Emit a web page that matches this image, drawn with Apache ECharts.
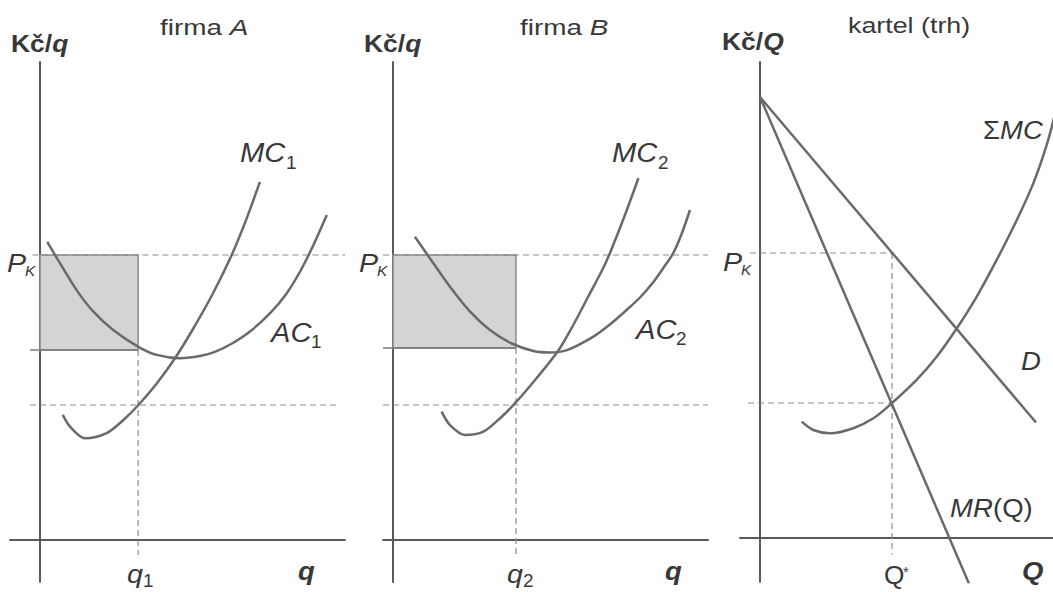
<!DOCTYPE html>
<html><head><meta charset="utf-8">
<script src="https://cdn.jsdelivr.net/npm/echarts@6/dist/echarts.min.js"></script>
<style>html,body{margin:0;padding:0;background:#fff}#c{width:1053px;height:592px}</style>
</head><body><div id="c"></div>
<script>
// ---- data (economic units) ----
const mc1 = [[0.76,4.17],[1.0,3.78],[1.5,3.39],[2.22,3.56],[2.78,4.0],[3.28,4.5],[3.89,5.22],[4.5,6.06],[5.11,7.05],[5.78,8.25],[6.39,9.5],[6.89,10.72],[7.33,11.94]];
const ac1 = [[0.24,9.94],[0.67,9.22],[1.22,8.33],[1.78,7.61],[2.44,7.0],[3.28,6.44],[3.89,6.17],[4.67,6.06],[5.33,6.13],[5.85,6.28],[6.4,6.55],[7.0,6.95],[7.67,7.56],[8.22,8.22],[8.67,8.95],[9.1,9.8],[9.56,10.83]];
const mc2 = [[1.62,4.28],[1.9,3.83],[2.4,3.5],[3.01,3.61],[3.57,4.06],[4.07,4.56],[4.79,5.4],[5.5,6.3],[6.0,7.15],[6.5,8.1],[7.0,9.05],[7.23,9.56],[7.7,10.75],[8.18,12.06]];
const ac2 = [[0.73,10.11],[1.23,9.39],[1.9,8.44],[2.57,7.61],[3.23,7.0],[3.96,6.55],[4.68,6.3],[5.2,6.25],[5.8,6.33],[6.68,6.78],[7.25,7.2],[7.79,7.67],[8.25,8.1],[8.68,8.6],[9.0,9.05],[9.34,9.56],[9.62,10.2],[9.9,11.0]];
const demand = [[0,14.7],[9.2,3.85]];
const mr = [[0,14.7],[7.0,-1.6]];
const smc = [[1.39,3.88],[1.78,3.6],[2.33,3.49],[3.11,3.66],[3.78,3.99],[4.39,4.49],[5.22,5.27],[5.89,6.04],[6.56,6.99],[7.22,8.04],[7.89,9.27],[8.56,10.6],[9.11,11.82],[9.56,13.11],[9.85,14.2]];
const pK = 9.5;
const q1 = 3.27, acQ1 = 6.33, mcQ1 = 4.5;
const q2 = 4.1, acQ2 = 6.4, mcQ2 = 4.5;
const qStar = 4.4, mcQStar = 4.5;

// ---- styles ----
const curveColor = '#6a6a6a';
const dashColor = '#8a8a8a';
const axisColor = '#5a5a5a';
const textColor = '#383838';
const FONT = 'Liberation Sans, Arial, sans-serif';

const grids = [
  {left:10, top:62, width:335, height:520},
  {left:383, top:62, width:325, height:520},
  {left:740, top:62, width:313, height:520}
];
const xRanges = [[-1,10.1667],[-0.3333,10.5],[-0.6667,9.7667]];
const yRanges = [[-1.4,15.9333],[-1.4,15.9333],[-1.4667,15.8667]];

function xa(i){return {type:'value',gridIndex:i,min:xRanges[i][0],max:xRanges[i][1],
  axisLine:{onZero:true,lineStyle:{color:axisColor,width:2}},axisTick:{show:false},axisLabel:{show:false},splitLine:{show:false}};}
function ya(i){return {type:'value',gridIndex:i,min:yRanges[i][0],max:yRanges[i][1],
  axisLine:{onZero:true,lineStyle:{color:axisColor,width:2}},axisTick:{show:false},axisLabel:{show:false},splitLine:{show:false}};}

function curve(i,data){return {type:'line',xAxisIndex:i,yAxisIndex:i,data:data,smooth:0.3,showSymbol:false,silent:true,z:5,
  lineStyle:{color:curveColor,width:2.5}};}
function straight(i,data){return {type:'line',xAxisIndex:i,yAxisIndex:i,data:data,showSymbol:false,silent:true,z:5,
  lineStyle:{color:curveColor,width:2.5}};}
function dashed(i,data){return {type:'line',xAxisIndex:i,yAxisIndex:i,data:data,showSymbol:false,silent:true,z:3,
  lineStyle:{color:dashColor,width:1.2,type:[6,4]}};}
function solid(i,data){return {type:'line',xAxisIndex:i,yAxisIndex:i,data:data,showSymbol:false,silent:true,z:4,
  lineStyle:{color:'#7a7a7a',width:1.5}};}
function shade(i,q,lo){return {type:'line',xAxisIndex:i,yAxisIndex:i,data:[],silent:true,z:2,
  markArea:{silent:true,itemStyle:{color:'#d4d4d4',borderColor:'#8a8a8a',borderWidth:1.5},
    data:[[{coord:[0,lo]},{coord:[q,pK]}]]}};}

const series = [
  // panel A
  shade(0,q1,acQ1),
  dashed(0,[[-0.25,pK],[10.17,pK]]),
  dashed(0,[[-0.33,mcQ1],[10.0,mcQ1]]),
  dashed(0,[[q1,acQ1],[q1,-0.5]]),
  solid(0,[[-0.33,acQ1],[q1,acQ1]]),
  curve(0,mc1), curve(0,ac1),
  // panel B
  shade(1,q2,acQ2),
  dashed(1,[[-0.33,pK],[10.5,pK]]),
  dashed(1,[[-0.33,mcQ2],[10.5,mcQ2]]),
  dashed(1,[[q2,acQ2],[q2,-0.5]]),
  solid(1,[[-0.33,acQ2],[q2,acQ2]]),
  curve(1,mc2), curve(1,ac2),
  // panel C
  dashed(2,[[-0.33,pK],[qStar,pK]]),
  dashed(2,[[-0.4,mcQStar],[qStar,mcQStar]]),
  dashed(2,[[qStar,pK],[qStar,-0.55]]),
  straight(2,demand),
  straight(2,mr),
  curve(2,smc)
];

function T(x,y,text,size,style,weight,sx){
  return {type:'text',x:x,y:y,scaleX:sx||1.1,z:100,style:{text:text,fill:textColor,
    font:(style||'normal')+' '+(weight||'normal')+' '+size+'px '+FONT,verticalAlign:'middle',align:'left'}};
}
function R(x,y,text,size,rich,sx){
  return {type:'text',x:x,y:y,scaleX:sx||1.1,z:100,style:{text:text,fill:textColor,
    fontFamily:FONT,fontSize:size,verticalAlign:'middle',align:'left',rich:rich}};
}
const axisRich = {
  a:{fontFamily:FONT,fontSize:23,fontWeight:'bold',fill:textColor,color:textColor},
  b:{fontFamily:FONT,fontSize:23,fontWeight:'bold',fontStyle:'italic',fill:textColor,color:textColor}
};
const titleRich = {
  n:{fontFamily:FONT,fontSize:22,fill:textColor,color:textColor},
  i:{fontFamily:FONT,fontSize:22,fontStyle:'italic',fill:textColor,color:textColor}
};
const graphics = [
  // panel A
  R(11,44,'{a|Kč/}{b|q}',23,axisRich,1.15),
  R(160,27,'{n|firma }{i|A}',22,titleRich,1.27),
  T(240,153,'MC',27,'italic','normal',1.08), T(286,163,'1',18,'normal','normal',1.05),
  T(271,333,'AC',27,'italic','normal',1.08), T(311,342,'1',18,'normal','normal',1.05),
  T(7,263,'P',26,'italic','normal',1.1), T(25,271,'K',14,'italic','normal',1.1),
  T(127,574,'q',26,'italic','normal',1.1), T(143,581,'1',18,'normal','normal',1.05),
  T(298,571,'q',25,'italic','bold',1.1),
  // panel B
  R(364,44,'{a|Kč/}{b|q}',23,axisRich,1.15),
  R(520,27,'{n|firma }{i|B}',22,titleRich,1.27),
  T(612,153,'MC',27,'italic','normal',1.08), T(658,163,'2',18,'normal','normal',1.05),
  T(636,330,'AC',27,'italic','normal',1.08), T(676,339,'2',18,'normal','normal',1.05),
  T(359,263,'P',26,'italic','normal',1.1), T(377,271,'K',14,'italic','normal',1.1),
  T(507,574,'q',26,'italic','normal',1.1), T(523,581,'2',18,'normal','normal',1.05),
  T(665,571,'q',25,'italic','bold',1.1),
  // panel C
  R(722,42,'{a|Kč/}{b|Q}',23,axisRich,1.15),
  R(848,25,'{n|kartel (trh)}',22,titleRich,1.22),
  T(983,130,'Σ',25,'normal','normal',1.1), T(1000,130,'MC',25,'italic','normal',1.1),
  T(723,262,'P',26,'italic','normal',1.1), T(741,270,'K',14,'italic','normal',1.1),
  T(1021,361,'D',25,'italic','normal',1.1),
  T(950,508,'MR',25,'italic','normal',1.1), T(993,508,'(Q)',25,'normal','normal',1.1),
  T(884,575,'Q',25,'normal','normal',1.05), T(903,572,'*',14,'normal','normal',1.05),
  T(1022,571,'Q',25,'italic','bold',1.1)
];

const chart = echarts.init(document.getElementById('c'),null,{renderer:'svg'});
chart.setOption({
  animation:false,
  backgroundColor:'#ffffff',
  grid:grids,
  xAxis:[xa(0),xa(1),xa(2)],
  yAxis:[ya(0),ya(1),ya(2)],
  series:series,
  graphic:graphics
});
</script></body></html>
